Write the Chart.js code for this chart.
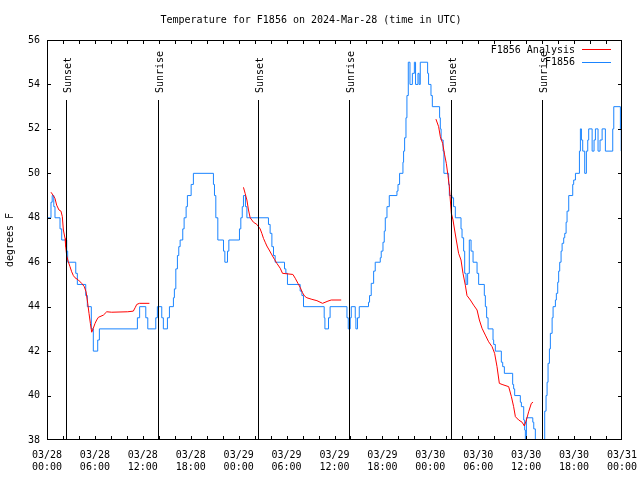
<!DOCTYPE html>
<html>
<head>
<meta charset="utf-8">
<script src="https://cdn.jsdelivr.net/npm/chart.js@4"></script>
<style>
  body { margin: 0; background: #fff; }
  #grafico { display: block; }
</style>
</head>
<body>
<canvas id="grafico" width="640" height="480"></canvas>
<script>
// hours since 2024-03-28 00:00 UTC
const tickLabels = ["03/28\n00:00", "03/28\n06:00", "03/28\n12:00", "03/28\n18:00",
  "03/29\n00:00", "03/29\n06:00", "03/29\n12:00", "03/29\n18:00",
  "03/30\n00:00", "03/30\n06:00", "03/30\n12:00", "03/30\n18:00", "03/31\n00:00"];

const sunTimes = [2.38, 13.95, 26.48, 37.84, 50.54, 61.94];
const sunLabels = ["Sunset", "Sunrise", "Sunset", "Sunrise", "Sunset", "Sunrise"];

/* F1856 observacoes (step) */
const obsTimes = [0, 0.5, 0.65, 0.85, 1.0, 1.63, 1.84, 2.47, 2.59, 3.6, 3.8, 4.85, 5.05, 5.55, 5.8,
  6.35, 6.56, 11.32, 11.6, 12.37, 12.62, 13.62, 13.82, 14.37, 14.57, 15.08, 15.33,
  15.83, 15.95, 16.13, 16.33, 16.5, 16.67, 17.0, 17.17, 17.42, 17.58, 18.05, 18.33,
  20.84, 20.97, 21.14, 21.39, 22.1, 22.27, 22.6, 22.77, 24.1, 24.27, 24.45, 24.6, 24.85, 25.03,
  27.73, 27.94, 28.16, 28.36, 28.57, 29.74, 29.91, 30.11, 31.7, 31.92, 32.12,
  34.71, 34.8, 35.25, 35.45, 37.56, 37.72, 37.97, 38.1, 38.6, 38.68, 38.88, 39.1,
  40.26, 40.39, 40.6, 40.9, 41.1, 41.73, 41.85, 42.07, 42.23, 42.36, 42.57, 42.86,
  43.82, 43.95, 44.15, 44.57, 44.65, 44.78, 44.95, 45.07, 45.24,
  45.45, 45.75, 46.0, 46.15, 46.45, 46.6, 46.74, 47.66, 47.78, 48.08, 48.25,
  49.16, 49.25, 49.35, 49.6, 49.7, 50.29, 50.38, 50.7, 50.91, 51.13,
  51.84, 51.97, 52.17, 52.3, 52.47, 52.67, 52.88, 53.1, 53.35, 53.85, 54.05,
  54.76, 54.89, 55.05, 55.23, 55.85, 55.93, 56.14, 56.89, 57.06, 57.27,
  58.31, 58.43, 58.56, 59.27, 59.4, 59.69, 59.81, 59.9, 60.03, 60.83, 60.95, 61.15,
  62.19, 62.32, 62.49, 62.62, 62.74, 62.91, 63.03, 63.25, 63.37,
  63.66, 63.78, 63.95, 64.07, 64.2, 64.37, 64.5, 64.7, 64.83, 65.0, 65.12, 65.33,
  65.83, 65.95, 66.17, 66.67, 66.79, 66.92, 67.08, 67.33, 67.54, 67.71, 67.83,
  68.26, 68.5, 68.67, 69.0, 69.25, 69.51, 69.92, 70.84, 70.97, 71.8, 71.9, 72];
const obsValues = [48, 48.7, 49, 48.5, 48, 47.5, 47, 46.5, 46, 45.5, 45, 44.5, 44, 43, 42,
  42.5, 43, 43.5, 44, 43.5, 43, 43.5, 44, 43.5, 43, 43.5, 44,
  44.4, 44.8, 45.7, 46.3, 46.7, 47, 47.5, 48, 48.5, 49, 49.5, 50,
  49.5, 49, 48, 47, 46.5, 46, 46.5, 47, 47.5, 48, 48.5, 49, 48.5, 48,
  47.7, 47.3, 46.7, 46.3, 46, 45.7, 45.5, 45, 44.7, 44.5, 44,
  43.5, 43, 43.5, 44, 43.5, 43, 43.5, 44, 43.5, 43, 43.5, 44,
  44.2, 44.5, 45.05, 45.6, 46, 46.2, 46.5, 46.9, 47.4, 48, 48.5, 49,
  49.2, 49.5, 50, 50.5, 51, 51.6, 52.5, 53.5, 55,
  54, 54.5, 55, 54, 54.5, 54, 55, 54.5, 54, 53.5, 53,
  52.5, 52, 51.5, 51, 50, 49.5, 49, 48.9, 48.5, 48,
  47.5, 47.1, 46.5, 45.5, 45, 45.5, 47, 46.5, 46, 45.5, 45,
  44.5, 44, 43.5, 43, 42.5, 42.3, 42, 41.5, 41.3, 41,
  40.5, 40.3, 40, 39.7, 39.5, 38.9, 38.45, 37.5, 39, 38.8, 38.5, 37,
  38, 39.3, 40, 40.6, 41.45, 42.1, 42.8, 43.5, 44,
  44.3, 44.6, 45.1, 45.6, 46, 46.5, 46.85, 47.1, 47.3, 47.8, 48.3, 49,
  49.5, 49.7, 50, 51, 52, 51.5, 51, 50, 51, 51.5, 52,
  51, 51.5, 52, 51, 51.5, 52, 51, 52, 53, 52, 51, 51];

/* F1856 Analysis (null = sem dados) */
const anaTimes = [0.5, 0.79, 1.0, 1.21, 1.5, 1.75, 1.92, 2.05, 2.26, 2.34, 2.47, 2.67, 2.88, 3.09, 3.3,
  3.51, 3.93, 4.34, 4.67, 4.89, 5.1, 5.26, 5.43, 5.6, 5.8, 6.02, 6.22, 6.43, 7.06, 7.48, 8.1,
  10.11, 10.81, 11.03, 11.24, 11.57, 12.82, 18,
  24.6, 24.81, 25.03, 25.23, 25.44, 25.85, 26.28, 26.69, 26.9, 27.11, 27.32, 27.53, 27.82,
  28.16, 28.48, 28.78, 29.2, 29.49, 30.79, 31.08, 31.42, 31.7, 31.99, 32.24, 32.54, 33.17,
  33.8, 34.5, 35.18, 35.59, 36.84, 42,
  48.7, 49.04, 49.25, 49.54, 49.79, 50.0, 50.21, 50.38, 50.5, 50.63, 50.84, 51.04, 51.25,
  51.54, 51.84, 52.09, 52.38, 52.59, 53.01, 53.42, 53.85, 54.14, 54.47, 54.89, 55.3, 55.73,
  56.05, 56.35, 56.64, 56.98, 57.81, 58.15, 58.43, 58.65, 59.06, 59.49, 59.77, 60.03, 60.31,
  60.65, 60.86];
const anaValues = [49.15, 49.0, 48.87, 48.57, 48.35, 48.3, 48.05, 47.45, 47.07, 46.7, 46.28, 46.02, 45.8, 45.57, 45.4,
  45.3, 45.2, 45.05, 44.9, 44.67, 44.15, 43.7, 43.25, 42.85, 43.03, 43.25, 43.4, 43.52, 43.62, 43.77, 43.75,
  43.77, 43.8, 43.95, 44.1, 44.15, 44.15, null,
  49.37, 49.1, 48.8, 48.35, 48.0, 47.8, 47.7, 47.5, 47.3, 47.07, 46.9, 46.73, 46.55,
  46.33, 46.13, 45.95, 45.73, 45.5, 45.45, 45.28, 45.05, 44.87, 44.63, 44.48, 44.4, 44.33,
  44.27, 44.15, 44.25, 44.3, 44.3, null,
  52.44, 52.1, 51.65, 51.35, 50.83, 50.45, 49.9, 49.4, 48.8, 48.2, 47.9, 47.45, 47.0,
  46.4, 46.1, 45.5, 44.97, 44.5, 44.3, 44.07, 43.85, 43.4, 43.03, 42.72, 42.42, 42.2,
  41.9, 41.3, 40.55, 40.5, 40.4, 39.95, 39.5, 39.05, 38.9, 38.8, 38.63, 38.9, 39.27,
  39.65, 39.7];

const titulo = "Temperature for F1856 on 2024-Mar-28 (time in UTC)";
const FONTE = { family: "DejaVu Sans Mono", size: 10 };

/* moldura, ticks para dentro, sunrise/sunset e legenda no estilo gnuplot */
const molduraPlugin = {
  id: "moldura",
  afterDatasetsDraw(chart) {
    const ctx = chart.ctx;
    const a = chart.chartArea;
    const x = chart.scales.x;
    const y = chart.scales.y;
    ctx.save();
    ctx.strokeStyle = "#000";
    ctx.fillStyle = "#000";
    ctx.lineWidth = 1;
    ctx.font = "10px 'DejaVu Sans Mono'";

    const topoLinha = a.bottom - (a.bottom - a.top) * 0.85;
    sunTimes.forEach((t, i) => {
      const px = Math.round(x.getPixelForValue(t)) + 0.5;
      ctx.beginPath();
      ctx.moveTo(px, a.bottom);
      ctx.lineTo(px, topoLinha);
      ctx.stroke();
      ctx.save();
      ctx.translate(px + 1.5, topoLinha - 7);
      ctx.rotate(-Math.PI / 2);
      ctx.textAlign = "left";
      ctx.textBaseline = "middle";
      ctx.fillText(sunLabels[i], 0, 0);
      ctx.restore();
    });

    ctx.strokeRect(a.left + 0.5, a.top + 0.5, a.right - a.left - 1, a.bottom - a.top - 1);

    const tam = 4;
    ctx.beginPath();
    for (let h = 2; h < 72; h += 2) {
      const px = Math.round(x.getPixelForValue(h)) + 0.5;
      ctx.moveTo(px, a.bottom);
      ctx.lineTo(px, a.bottom - tam);
      ctx.moveTo(px, a.top);
      ctx.lineTo(px, a.top + tam);
    }
    for (let v = 40; v < 56; v += 2) {
      const py = Math.round(y.getPixelForValue(v)) + 0.5;
      ctx.moveTo(a.left, py);
      ctx.lineTo(a.left + tam, py);
      ctx.moveTo(a.right, py);
      ctx.lineTo(a.right - tam, py);
    }
    ctx.stroke();

    // legenda
    chart.data.datasets.forEach((ds, i) => {
      const ly = a.top + 10 + i * 12.5;
      ctx.textAlign = "right";
      ctx.textBaseline = "middle";
      ctx.fillStyle = "#000";
      ctx.fillText(ds.label, a.right - 47, ly);
      ctx.strokeStyle = ds.borderColor;
      ctx.beginPath();
      ctx.moveTo(a.right - 40, Math.round(ly) - 0.5);
      ctx.lineTo(a.right - 11, Math.round(ly) - 0.5);
      ctx.stroke();
    });
    ctx.restore();
  }
};

const ctxGrafico = document.getElementById("grafico").getContext("2d");
const grafico = new Chart(ctxGrafico, {
  type: "line",
  data: {
    datasets: [
      {
        label: "F1856 Analysis",
        data: anaTimes.map((t, i) => ({ x: t, y: anaValues[i] })),
        borderColor: "#ff0000",
        borderWidth: 1,
        pointRadius: 0,
        spanGaps: false,
        tension: 0,
        clip: 0,
      },
      {
        label: "F1856",
        data: obsTimes.map((t, i) => ({ x: t, y: obsValues[i] })),
        borderColor: "#1a84ff",
        borderWidth: 1,
        pointRadius: 0,
        stepped: true,
        clip: 0,
      },
    ],
  },
  options: {
    responsive: false,
    animation: false,
    layout: { padding: { left: 0, right: 18, top: 0, bottom: 0 } },
    scales: {
      x: {
        type: "linear",
        min: 0,
        max: 72,
        grid: { display: false, drawTicks: false },
        border: { display: false },
        ticks: {
          stepSize: 6,
          autoSkip: false,
          maxRotation: 0,
          padding: 9,
          color: "#000",
          font: FONTE,
          callback: (v) => tickLabels[Math.round(v / 6)].split("\n"),
        },
        afterFit: (s) => { s.height = 40; s.paddingLeft = 0; s.paddingRight = 0; },
      },
      y: {
        min: 38,
        max: 56,
        grid: { display: false, drawTicks: false },
        border: { display: false },
        ticks: { stepSize: 2, padding: 7, color: "#000", font: FONTE },
        title: { display: true, text: "degrees F", color: "#000", font: FONTE, padding: { top: 4, bottom: 0 } },
        afterFit: (s) => { s.width = 47; s.paddingTop = 0; s.paddingBottom = 0; },
      },
    },
    plugins: {
      legend: { display: false },
      tooltip: { enabled: false },
      title: { display: true, text: titulo, color: "#000", font: { family: "DejaVu Sans Mono", size: 10, weight: "normal" }, padding: { top: 14, bottom: 14 } },
    },
  },
  plugins: [molduraPlugin],
});
</script>
</body>
</html>
